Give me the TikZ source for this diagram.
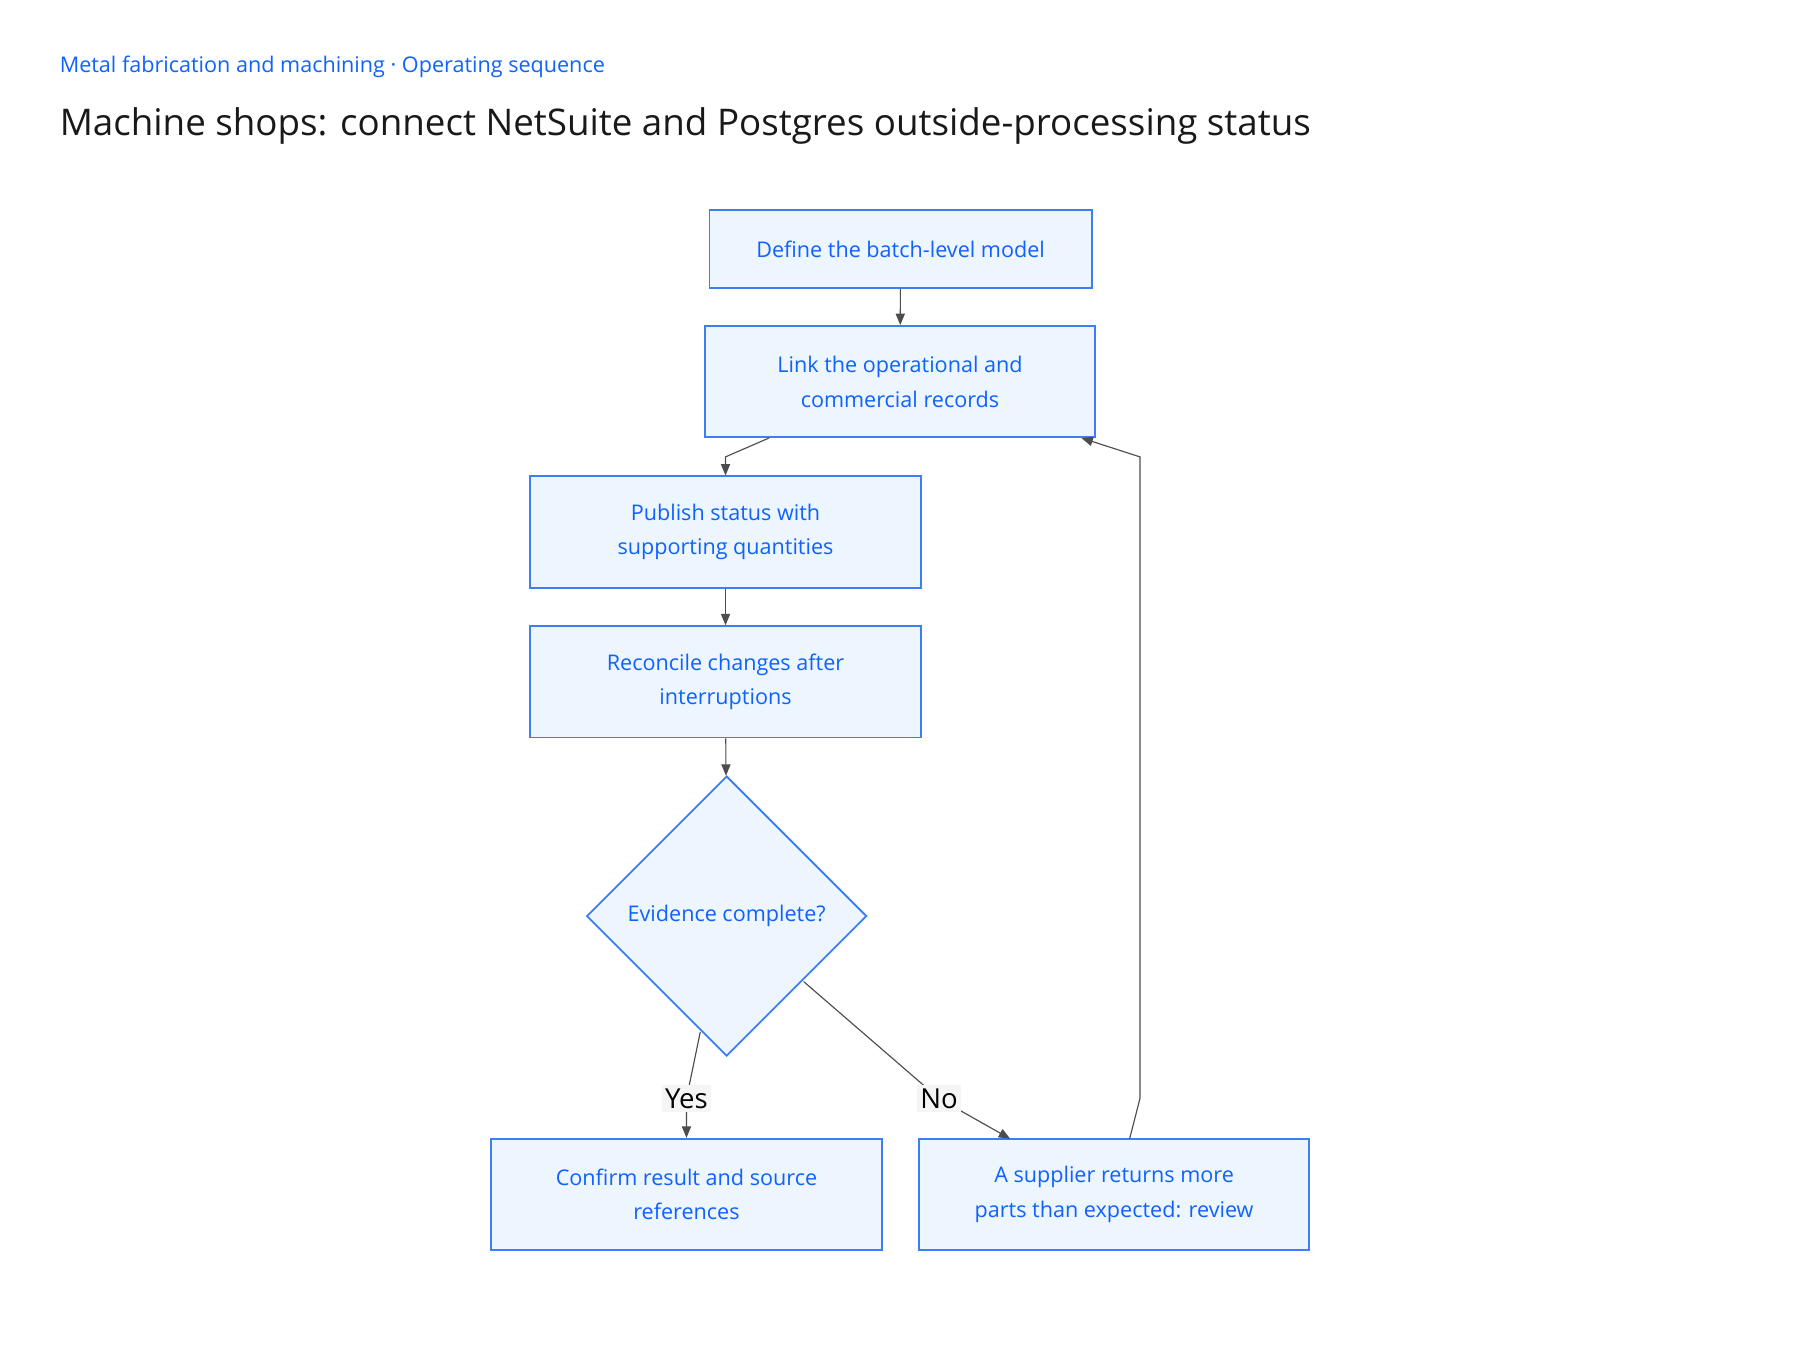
\documentclass[tikz,border=0pt]{standalone}
\usepackage{fontspec}
\setmainfont{Open Sans}
\usetikzlibrary{shapes.geometric,arrows.meta}
\definecolor{bl}{HTML}{0F62FE}
\definecolor{bfill}{HTML}{EDF5FF}
\definecolor{bdr}{HTML}{3D7EF5}
\definecolor{ed}{HTML}{4D4D4D}
\begin{document}
\begin{tikzpicture}[x=0.5pt,y=-0.5pt,
 box/.style={draw=bdr,fill=bfill,line width=0.8pt,text=bl,font=\fontsize{9.4}{15}\selectfont,align=center,inner sep=0pt},
 dia/.style={draw=bdr,fill=bfill,line width=0.8pt,text=bl,font=\fontsize{9.4}{15}\selectfont,diamond,minimum width=244*0.5pt,minimum height=244*0.5pt,inner sep=0pt},
 ar/.style={draw=ed,line width=0.5pt,-{Triangle[length=5pt,width=4pt]}},
 lab/.style={fill=black!4,text=black,font=\fontsize{12}{14}\selectfont,inner sep=1.5pt}]
\useasboundingbox (0,0) rectangle (1568,1176);
\node[anchor=base west,text=bl,font=\fontsize{9.4}{11}\selectfont] (sub) at (45,63) {Metal fabrication and machining · Operating sequence};
\node[anchor=base west,text=black!90,font=\fontsize{16}{19}\selectfont] (tit) at (45,118) {Machine shops: connect NetSuite and Postgres outside-processing status};
\node[box,minimum width=333*0.5pt,minimum height=68*0.5pt] (a) at (784.5,217) {Define the batch-level model};
\node[box,minimum width=340*0.5pt,minimum height=97*0.5pt] (b) at (784,332.5) {Link the operational and\\commercial records};
\node[box,minimum width=340*0.5pt,minimum height=97*0.5pt] (c) at (632,463.5) {Publish status with\\supporting quantities};
\node[box,minimum width=340*0.5pt,minimum height=97*0.5pt] (d) at (632,594) {Reconcile changes after\\interruptions};
\node[dia] (q) at (633,798) {Evidence complete?};
\node[box,minimum width=340*0.5pt,minimum height=97*0.5pt] (e) at (598,1040.5) {Confirm result and source\\references};
\node[box,minimum width=340*0.5pt,minimum height=97*0.5pt] (f) at (970.5,1040.5) {A supplier returns more\\parts than expected: review};
\coordinate (b1) at (670,381.5);
\coordinate (c1) at (632,398);
\coordinate (q1) at (610,899);
\coordinate (q2) at (700,855);
\coordinate (f1) at (984,992);
\coordinate (f2) at (993,957);
\coordinate (f3) at (993,398);
\coordinate (b2) at (942,381.5);
\draw[ar] (a) -- (b);
\draw[ar] (b1) -- (c1) -- (c.north);
\draw[ar] (c) -- (d);
\draw[ar] (d) -- (q);
\draw[ar] (q1) -- (598,957) -- (e.north);
\draw[ar] (q2) -- (818,957) -- (880,992);
\draw[ar] (f1) -- (f2) -- (f3) -- (b2);
\node[lab] (ly) at (598,957) {Yes};
\node[lab] (ln) at (818,957) {No};
\end{tikzpicture}
\end{document}
